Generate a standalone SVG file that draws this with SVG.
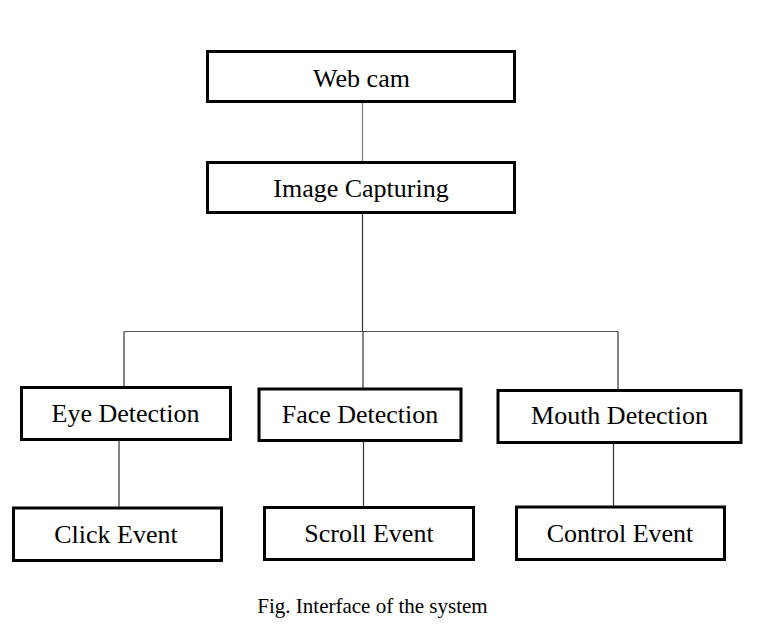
<svg xmlns="http://www.w3.org/2000/svg" width="765" height="626" viewBox="0 0 765 626">
<style>
.box{fill:#fff;stroke:#000;stroke-width:3}
.lbl{font-family:"Liberation Serif","Times New Roman",serif;font-size:26px;fill:#000;text-anchor:middle}
.cap{font-family:"Liberation Serif","Times New Roman",serif;font-size:21px;fill:#000;text-anchor:middle}
.con{stroke:#333;stroke-width:1.2;fill:none}
</style>
<rect width="765" height="626" fill="#fff"/>
<g id="connectors">
<line class="con" x1="362.5" y1="103" x2="362.5" y2="161" style="stroke:#777"/>
<line class="con" x1="362.5" y1="214" x2="362.5" y2="331.5"/>
<line class="con" x1="124" y1="331.5" x2="618" y2="331.5" style="stroke:#555"/>
<line class="con" x1="124" y1="331.5" x2="124" y2="386"/>
<line class="con" x1="363" y1="331.5" x2="363" y2="388"/>
<line class="con" x1="618" y1="331.5" x2="618" y2="389"/>
<line class="con" x1="119" y1="441" x2="119" y2="508"/>
<line class="con" x1="363.5" y1="442" x2="363.5" y2="507"/>
<line class="con" x1="613.5" y1="444" x2="613.5" y2="507"/>
</g>
<g id="webcam"><rect class="box" x="207.5" y="51.5" width="307" height="50"/><text class="lbl" x="361.5" y="86.5">Web cam</text></g>
<g id="capture"><rect class="box" x="207.5" y="162.5" width="307" height="50"/><text class="lbl" x="361" y="196.5">Image Capturing</text></g>
<g id="eye"><rect class="box" x="21.5" y="387.5" width="209" height="52"/><text class="lbl" x="125.5" y="421.5">Eye Detection</text></g>
<g id="face"><rect class="box" x="259" y="389" width="202" height="51.5"/><text class="lbl" x="360" y="423">Face Detection</text></g>
<g id="mouth"><rect class="box" x="498" y="390.5" width="243" height="52"/><text class="lbl" x="619.5" y="424">Mouth Detection</text></g>
<g id="click"><rect class="box" x="13.5" y="508" width="208" height="52.5"/><text class="lbl" x="116" y="542.5">Click Event</text></g>
<g id="scroll"><rect class="box" x="264.5" y="507.5" width="209" height="52"/><text class="lbl" x="369" y="542">Scroll Event</text></g>
<g id="control"><rect class="box" x="516.5" y="507" width="208" height="52.5"/><text class="lbl" x="620" y="541.5">Control Event</text></g>
<text class="cap" x="372.5" y="613">Fig. Interface of the system</text>
</svg>
